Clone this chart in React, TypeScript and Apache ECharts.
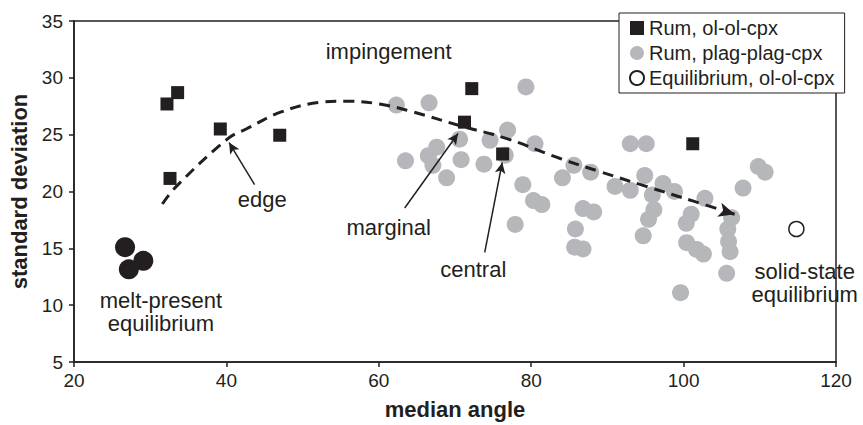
import React, { useEffect, useRef } from "react";
import * as echarts from "echarts";

const INK = "#231f20";
const GRAY = "#b5b7ba";
const FONT = "'Liberation Sans', Arial, Helvetica, sans-serif";

// Rum, ol-ol-cpx (black squares): [median angle, standard deviation]
const rumOlOlCpx: [number, number][] = [
  [32.2, 27.7], [33.6, 28.7], [32.6, 21.15], [39.2, 25.5], [47.0, 24.95],
  [72.2, 29.05], [71.25, 26.1], [76.25, 23.3], [101.2, 24.2],
];

// Rum, plag-plag-cpx (gray circles)
const rumPlagPlagCpx: [number, number][] = [
  [62.3, 27.6], [66.6, 27.8], [79.3, 29.2], [70.6, 24.6], [67.6, 23.9],
  [66.5, 23.15], [67.1, 22.3], [63.5, 22.7], [68.9, 21.2], [70.8, 22.8],
  [73.8, 22.4], [74.6, 24.5], [76.9, 25.4], [76.6, 23.2], [80.5, 24.2],
  [78.9, 20.6], [80.3, 19.2], [81.4, 18.85], [77.9, 17.1], [84.1, 21.2],
  [85.6, 22.3], [87.8, 21.7], [86.8, 18.5], [88.2, 18.2], [85.8, 16.7],
  [85.7, 15.1], [86.8, 14.95], [91.0, 20.45], [93.0, 24.2], [95.1, 24.2],
  [93.0, 20.1], [94.9, 21.4], [95.9, 19.7], [97.3, 20.7], [98.8, 20.0],
  [96.1, 18.4], [95.4, 17.55], [94.7, 16.1], [102.8, 19.4], [101.0, 18.0],
  [100.35, 17.2], [100.4, 15.5], [101.7, 14.9], [102.6, 14.5], [106.3, 17.7],
  [105.8, 16.7], [105.9, 15.6], [106.1, 14.7], [105.65, 12.8], [99.6, 11.1],
  [107.8, 20.3], [109.8, 22.2], [110.7, 21.7],
];

// Equilibrium, ol-ol-cpx (open circle)
const equilibriumOlOlCpx: [number, number][] = [[114.8, 16.7]];

// melt-present equilibrium (black circles)
const meltPresent: [number, number][] = [[26.7, 15.1], [29.1, 13.9], [27.2, 13.15]];

// dashed trend curve
const trendCurve: [number, number][] = [
  [31.6, 18.9], [33.5, 20.5], [40.2, 24.65], [42.6, 25.5], [47.2, 27.0],
  [52.3, 27.85], [55.5, 27.95], [60.1, 27.7], [64.5, 27.0], [70.6, 25.8],
  [76.8, 24.65], [83.8, 22.9], [89.0, 21.75], [95.1, 20.45], [101.3, 19.15],
  [106.7, 18.0],
];
const trendArrowFrom: [number, number] = [106.2, 18.1];

// annotation texts
const annotationTexts = ["impingement", "edge", "marginal", "central", "melt-present\nequilibrium", "solid-state\nequilibrium"];
const annotationAt: [number, number][] = [
  [61.3, 32.3], [44.7, 19.3], [61.3, 16.85], [72.4, 13.1], [31.4, 9.4], [115.9, 11.95],
];

// pointer arrows [from, to]
const pointerFrom: [number, number][] = [[43.7, 20.6], [63.4, 18.55], [73.9, 14.65]];
const pointerTo: [number, number][] = [[40.35, 24.3], [70.4, 25.1], [76.2, 22.55]];

const xMin = 20, xMax = 120, xStep = 20;
const yMin = 5, yMax = 35, yStep = 5;

export default function App() {
  const ref = useRef<HTMLDivElement>(null);
  useEffect(() => {
    document.body.style.margin = "0";
    if (!ref.current) return;
    const chart = echarts.init(ref.current, undefined, { renderer: "svg" });
    const axisCommon = {
      axisLine: { show: true, lineStyle: { color: INK, width: 1.5 } },
      axisTick: { show: true, length: 5, lineStyle: { color: INK, width: 1.5 } },
      splitLine: { show: false },
      nameLocation: "middle" as const,
      nameTextStyle: { fontSize: 22, fontWeight: "bold" as const, color: INK, fontFamily: FONT },
    };
    chart.setOption({
      animation: false,
      backgroundColor: "#fff",
      grid: { left: 74, right: 27, top: 21, bottom: 59, show: true, borderColor: INK, borderWidth: 1.5 },
      legend: {
        orient: "vertical",
        left: 619,
        top: 13,
        padding: [5, 10, 5, 10],
        itemGap: 5,
        itemWidth: 14,
        itemHeight: 14,
        borderColor: INK,
        borderWidth: 1,
        borderRadius: 0,
        backgroundColor: "#fff",
        selectedMode: false,
        textStyle: { fontSize: 20, lineHeight: 20, color: INK, fontFamily: FONT },
        data: [
          { name: "Rum, ol-ol-cpx", icon: "rect" },
          { name: "Rum, plag-plag-cpx", icon: "circle" },
          { name: "Equilibrium, ol-ol-cpx", icon: "circle" },
        ],
        z: 10,
      },
      xAxis: {
        type: "value",
        min: xMin,
        max: xMax,
        interval: xStep,
        name: "median angle",
        nameGap: 36,
        ...axisCommon,
        axisLabel: { fontSize: 19, color: INK, fontFamily: FONT, margin: 9 },
      },
      yAxis: {
        type: "value",
        min: yMin,
        max: yMax,
        interval: yStep,
        name: "standard deviation",
        nameGap: 40,
        ...axisCommon,
        axisLabel: { fontSize: 19, color: INK, fontFamily: FONT, margin: 11 },
      },
      series: [
        {
          name: "Rum, plag-plag-cpx",
          type: "scatter",
          data: rumPlagPlagCpx,
          symbol: "circle",
          symbolSize: 17,
          itemStyle: { color: GRAY, opacity: 1 },
          z: 2,
          silent: true,
        },
        {
          name: "trend",
          type: "line",
          data: trendCurve,
          smooth: 0.4,
          symbol: "none",
          lineStyle: { color: INK, width: 3, type: [11, 7], opacity: 1 },
          z: 3,
          silent: true,
          markLine: {
            silent: true,
            symbol: ["none", "arrow"],
            symbolSize: [11, 16],
            label: { show: false },
            lineStyle: { color: INK, width: 3, type: "solid", opacity: 1 },
            data: [[{ coord: trendArrowFrom }, { coord: trendCurve[trendCurve.length - 1] }]],
          },
        },
        {
          name: "Rum, ol-ol-cpx",
          type: "scatter",
          data: rumOlOlCpx,
          symbol: "rect",
          symbolSize: 13,
          itemStyle: { color: INK, opacity: 1 },
          z: 4,
          silent: true,
        },
        {
          name: "melt-present",
          type: "scatter",
          data: meltPresent,
          symbol: "circle",
          symbolSize: 20,
          itemStyle: { color: INK, opacity: 1 },
          z: 4,
          silent: true,
        },
        {
          name: "Equilibrium, ol-ol-cpx",
          type: "scatter",
          data: equilibriumOlOlCpx,
          symbol: "circle",
          symbolSize: 15,
          itemStyle: { color: "#fff", borderColor: INK, borderWidth: 1.5, opacity: 1 },
          z: 4,
          silent: true,
        },
        {
          name: "annotations",
          type: "scatter",
          symbolSize: 1,
          itemStyle: { color: "transparent", opacity: 1 },
          z: 5,
          silent: true,
          data: annotationAt.map((p, i) => ({
            value: p,
            label: {
              show: true,
              position: "inside",
              formatter: annotationTexts[i],
              fontSize: 22,
              lineHeight: 23,
              align: "center",
              color: INK,
              opacity: 1,
              fontFamily: FONT,
            },
          })),
          markLine: {
            silent: true,
            symbol: ["none", "arrow"],
            symbolSize: [8, 11],
            label: { show: false },
            lineStyle: { color: INK, width: 1.5, type: "solid", opacity: 1 },
            data: pointerFrom.map((f, i) => [{ coord: f }, { coord: pointerTo[i] }]),
          },
        },
      ],
    });
    return () => chart.dispose();
  }, []);
  return <div ref={ref} style={{ position: "fixed", left: 0, top: 0, width: 863, height: 425 }} />;
}
